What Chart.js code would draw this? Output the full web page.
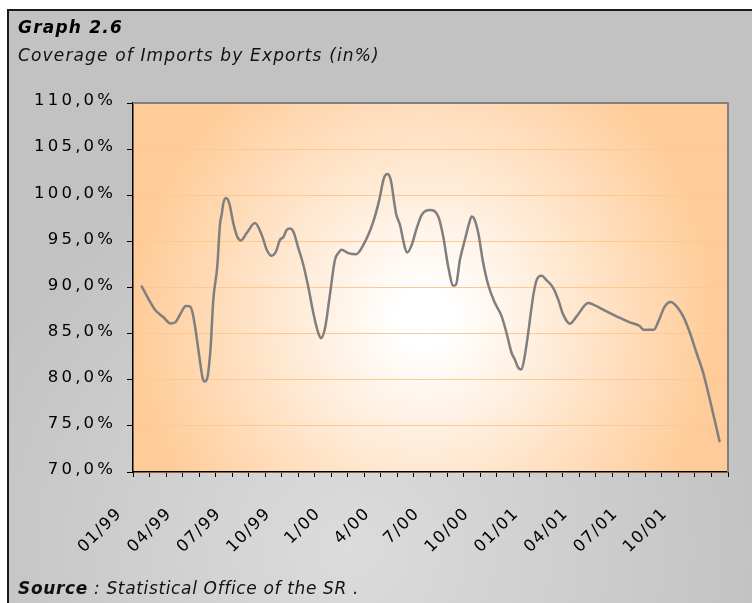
<!DOCTYPE html>
<html>
<head>
<meta charset="utf-8">
<script src="https://cdn.jsdelivr.net/npm/chart.js@4.4.1/dist/chart.umd.min.js"></script>
<style>
  html, body { margin: 0; padding: 0; background: #fff; }
  #frame {
    position: absolute; left: 7px; top: 9px; width: 760px; height: 610px;
    border-left: 2px solid #1a1a1a; border-top: 2px solid #1a1a1a;
    background: radial-gradient(ellipse 55% 65% at 45% 88%, #dcdcdc 0%, #c2c2c2 100%);
  }
  #chart { position: absolute; left: 0; top: 0; }
  .txt { position: absolute; left: 18px; line-height: 20px; font-family: "DejaVu Sans"; color: #111; white-space: nowrap; }
  #title { top: 17px; font-size: 17px; font-weight: bold; font-style: italic; letter-spacing: 1.2px; color: #000; }
  #subtitle { top: 45px; font-size: 17px; font-style: italic; letter-spacing: 1.15px; }
  #source { top: 578px; font-size: 17px; font-style: italic; letter-spacing: 0.65px; }
</style>
</head>
<body>
<div id="frame"></div>
<canvas id="chart" width="752" height="603"></canvas>
<div id="title" class="txt">Graph 2.6</div>
<div id="subtitle" class="txt">Coverage of Imports by Exports (in%)</div>
<div id="source" class="txt"><b>Source</b> : Statistical Office of the SR .</div>
<script>
// Coverage of imports by exports
// month position: 0 = 01/99, 35 = 12/01
const monthPos = [0, 0.83, 1.33, 1.78, 2.04, 2.34, 2.7, 2.95, 3.11, 3.31, 3.51, 3.71, 3.86, 4.02, 4.12, 4.2,
  4.36, 4.6, 4.76, 4.88, 4.96, 5.13, 5.33, 5.57, 5.81, 6.03, 6.38, 6.88, 7.29, 7.59, 7.89, 8.15, 8.39, 8.6,
  8.8, 9.0, 9.2, 9.5, 9.8, 10.1, 10.41, 10.71, 10.87, 11.12, 11.42, 11.72, 11.92, 12.12, 12.53, 12.99, 13.43,
  14.04, 14.4, 14.68, 14.89, 15.09, 15.41, 15.65, 15.96, 16.1, 16.36, 16.66, 16.97, 17.47, 17.97, 18.27,
  18.57, 18.88, 19.04, 19.28, 19.58, 19.84, 19.99, 20.13, 20.39, 20.69, 20.99, 21.4, 21.8, 22.1, 22.41, 22.6,
  22.81, 23.0, 23.2, 23.41, 23.71, 23.92, 24.22, 24.52, 24.93, 25.23, 25.53, 25.94, 26.34, 27.05, 27.35,
  28.15, 28.96, 29.56, 30.17, 30.37, 31.02, 31.28, 31.68, 32.03, 32.39, 32.79, 33.2, 33.6, 34.0, 34.4, 35.0];
// coverage in %
const coverage = [90.2, 87.6, 86.8, 86.1, 86.2, 87.05, 88.0, 87.95, 87.2, 85.1, 82.55, 80.2, 79.8, 80.4, 81.9, 83.6,
  88.7, 92.3, 96.8, 98.06, 99.1, 99.7, 99.1, 96.98, 95.5, 95.1, 95.9, 96.98, 95.7, 94.1, 93.44, 93.9, 95.17, 95.47,
  96.25, 96.4, 96.07, 94.3, 92.5, 90.1, 87.24, 85.07, 84.5, 85.6, 89.3, 93.0, 93.73, 94.1, 93.73, 93.6, 94.6,
  97.15, 99.5, 101.85, 102.3, 101.7, 98.06, 96.8, 94.27, 93.8, 94.6, 96.4, 97.88, 98.4, 97.7, 95.53,
  92.28, 90.2, 90.3, 93.0, 95.17, 96.98, 97.7, 97.5, 95.9, 92.65, 90.3, 88.32, 86.9, 85.07, 82.9, 82.2,
  81.3, 81.1, 82.55, 85.07, 89.04, 90.8, 91.28, 90.8, 89.94, 88.68, 87.06, 86.08, 86.87, 88.32, 88.14,
  87.41, 86.7, 86.22, 85.8, 85.43, 85.43, 86.3, 87.96, 88.44, 87.96, 86.87, 85.07, 82.9, 80.74, 77.86, 73.24];

const tickLabels = ['01/99', '04/99', '07/99', '10/99', '1/00', '4/00', '7/00', '10/00', '01/01', '04/01', '07/01', '10/01'];
const tickMonths = [0, 3, 6, 9, 12, 15, 18, 21, 24, 27, 30, 33];

const FONT = 'DejaVu Sans';
const X_SPACING = '1.5px';
const Y_SPACING = '3.2px';
const labelShift = 1.3; // rotated labels sit left of their month

const points = monthPos.map((m, i) => ({ x: m, y: coverage[i] }));

// canvas letter spacing: x labels are drawn before the line, y labels after it (ticks.z = 1)
const spacingPlugin = {
  id: 'spacing',
  beforeDraw(chart) { chart.ctx.letterSpacing = X_SPACING; },
  afterDatasetsDraw(chart) { chart.ctx.letterSpacing = Y_SPACING; }
};

// orange "from centre" fill of the plot area plus the grey top/right frame
const plotBg = {
  id: 'plotBg',
  beforeDraw(chart) {
    const { ctx, chartArea: a } = chart;
    const rx = 290, ry = 300;
    ctx.save();
    ctx.beginPath();
    ctx.rect(a.left, a.top, a.width, a.height);
    ctx.clip();
    ctx.translate(425, 318);
    ctx.scale(1, ry / rx);
    const g = ctx.createRadialGradient(0, 0, 0, 0, 0, rx);
    g.addColorStop(0, '#ffffff');
    g.addColorStop(0.1, '#ffffff');
    g.addColorStop(1, '#ffcc99');
    ctx.fillStyle = g;
    ctx.fillRect(-a.width, -a.height * 2, a.width * 2, a.height * 4);
    ctx.restore();
  },
  afterDatasetsDraw(chart) {
    const { ctx, chartArea: a } = chart;
    ctx.save();
    ctx.strokeStyle = '#808080';
    ctx.lineWidth = 2;
    ctx.beginPath();
    ctx.moveTo(a.left, a.top);
    ctx.lineTo(a.right, a.top);
    ctx.lineTo(a.right, a.bottom);
    ctx.stroke();
    ctx.restore();
  }
};

new Chart(document.getElementById('chart'), {
  type: 'line',
  data: {
    datasets: [{
      data: points,
      borderColor: '#7f7f7f',
      borderWidth: 2.5,
      pointRadius: 0,
      cubicInterpolationMode: 'monotone',
      fill: false
    }]
  },
  options: {
    responsive: false,
    animation: false,
    events: [],
    layout: { padding: { left: 18, right: 24, top: 103, bottom: 41 } },
    plugins: {
      legend: { display: false },
      tooltip: { enabled: false }
    },
    scales: {
      x: {
        type: 'linear', min: -0.5, max: 35.5,
        afterBuildTicks: s => {
          const t = [];
          for (let v = -0.5; v <= 35.5; v++) t.push({ value: v });
          s.ticks = t;
        },
        grid: { drawOnChartArea: false, tickLength: 5, tickColor: '#000', tickWidth: 1 },
        border: { color: '#000', width: 1.5 },
        ticks: { display: false }
      },
      x2: {
        type: 'linear', position: 'bottom', weight: 1, min: -0.5, max: 35.5,
        afterBuildTicks: s => { s.ticks = tickMonths.map(m => ({ value: m - labelShift })); },
        afterFit: s => { s.height = 85; },
        grid: { display: false, drawTicks: false },
        border: { display: false },
        ticks: {
          autoSkip: false, maxRotation: 45, minRotation: 45, padding: 27, color: '#000',
          font: { family: FONT, size: 16.5 },
          callback: (v, i) => tickLabels[i]
        }
      },
      y: {
        min: 70, max: 110,
        afterFit: s => { s.width = 115; },
        ticks: {
          stepSize: 5, padding: 10.8, labelOffset: -2, color: '#000', z: 1,
          font: { family: FONT, size: 16.5 },
          callback: v => v.toFixed(1).replace('.', ',') + '%'
        },
        grid: { color: '#ffc890', tickColor: '#000', tickLength: 6, lineWidth: 1 },
        border: { color: '#000', width: 1.5 }
      }
    }
  },
  plugins: [spacingPlugin, plotBg]
});
</script>
</body>
</html>
